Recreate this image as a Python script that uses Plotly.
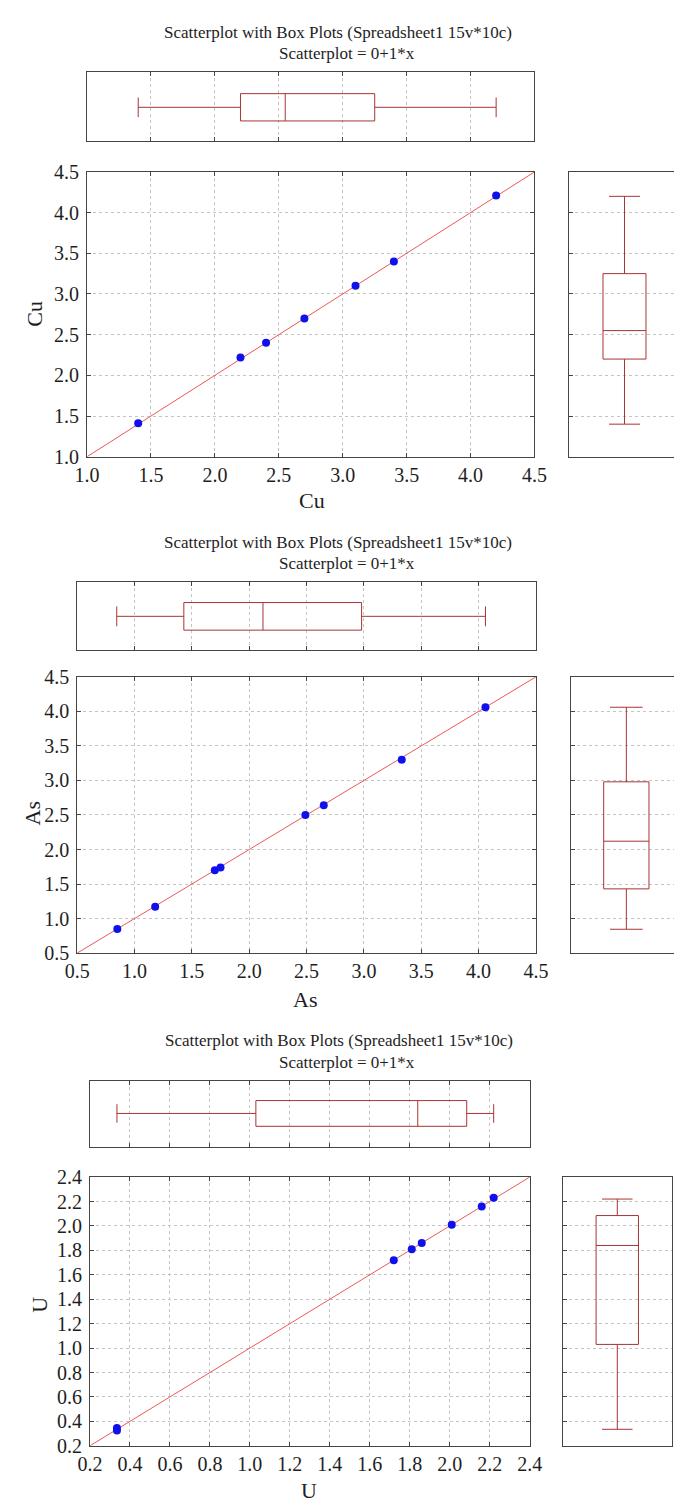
import plotly.graph_objects as go

# ---------------- data ----------------
title_main = "Scatterplot with Box Plots (Spreadsheet1 15v*10c)"
title_fit = "Scatterplot = 0+1*x"
fit_intercept = 0.0
fit_slope = 1.0

cu_x = [1.4, 2.2, 2.4, 2.7, 3.1, 3.4, 4.2]
cu_y = [1.41, 2.22, 2.4, 2.7, 3.1, 3.4, 4.21]
cu_stats = {"min": 1.4, "q1": 2.2, "med": 2.55, "q3": 3.25, "max": 4.2}
cu_range = [1.0, 4.5]
cu_dtick = 0.5

as_x = [0.85, 1.18, 1.70, 1.75, 2.49, 2.65, 3.33, 4.06]
as_y = [0.85, 1.17, 1.70, 1.74, 2.50, 2.64, 3.30, 4.06]
as_stats = {"min": 0.845, "q1": 1.43, "med": 2.12, "q3": 2.98, "max": 4.06}
as_range = [0.5, 4.5]
as_dtick = 0.5

u_x = [0.335, 0.335, 1.72, 1.81, 1.86, 2.01, 2.16, 2.22]
u_y = [0.325, 0.345, 1.72, 1.81, 1.86, 2.01, 2.16, 2.23]
u_stats = {"min": 0.335, "q1": 1.03, "med": 1.84, "q3": 2.085, "max": 2.22}
u_range = [0.2, 2.4]
u_dtick = 0.2

var_names = ["Cu", "As", "U"]

# ---------------- layout geometry (pixels) ----------------
W, H = 687, 1511
panels = [
    dict(name=var_names[0], x=cu_x, y=cu_y, st=cu_stats, rng=cu_range, dt=cu_dtick,
         sc=(77, 542, 163.3, 452.3), tb=(77, 542, 62.3, 132.3), rb=(578, 687, 163.3, 452.3),
         tb_pos=0.494, tb_w=0.396, rb_pos=0.528, rb_w=0.41, rb_mirror=False,
         t1=21.7, t2=42.7, tx=338, sx=347, xt=(311, 497), yt=(22, 307)),
    dict(name=var_names[1], x=as_x, y=as_y, st=as_stats, rng=as_range, dt=as_dtick,
         sc=(66.7, 543.5, 675.7, 956), tb=(66.7, 543.5, 579.3, 648.3), rb=(580, 687, 675.7, 956),
         tb_pos=0.493, tb_w=0.406, rb_pos=0.537, rb_w=0.44, rb_mirror=False,
         t1=539, t2=561, tx=338, sx=347, xt=(304, 1003), yt=(20, 814)),
    dict(name=var_names[2], x=u_x, y=u_y, st=u_stats, rng=u_range, dt=u_dtick,
         sc=(80, 537, 1183.3, 1456), tb=(80, 537, 1085.7, 1152.7), rb=(572, 685, 1183.3, 1456),
         tb_pos=0.507, tb_w=0.39, rb_pos=0.496, rb_w=0.39, rb_mirror=True,
         t1=1045, t2=1067, tx=339, sx=347, xt=(308, 1501), yt=(28, 1313)),
]

FONT = "Liberation Serif, Times New Roman, serif"
TXT = "#1e1e1e"
AXC = "#454545"
GRID = "#c4c4c4"
GDASH = "3px,3px"
BOXC = "#a83434"
FITC = "#ec5858"
DOTC = "#1010ee"


def xdom(a, b):
    return [a / W, b / W]


def ydom(top, bottom):
    return [1 - bottom / H, 1 - top / H]


fig = go.Figure()
layout = dict(width=W, height=H, margin=dict(l=0, r=0, t=0, b=0),
              paper_bgcolor="white", plot_bgcolor="white", showlegend=False,
              font=dict(family=FONT, color=TXT), annotations=[])

ax_i = 0
for p in panels:
    lo, hi = p["rng"]
    nt = int(round((hi - lo) / p["dt"]))
    ticks = [round(lo + k * p["dt"], 6) for k in range(nt + 1)]
    ticktext = [f"{t:.1f}" for t in ticks]

    # --- scatter ---
    ax_i += 1
    xs, ys = ("x" if ax_i == 1 else f"x{ax_i}"), ("y" if ax_i == 1 else f"y{ax_i}")
    xk, yk = ("xaxis" if ax_i == 1 else f"xaxis{ax_i}"), ("yaxis" if ax_i == 1 else f"yaxis{ax_i}")
    common = dict(range=[lo, hi], tickvals=ticks, ticktext=ticktext, ticks="inside", ticklen=4,
                  tickcolor=AXC, showline=True, linecolor=AXC, linewidth=1, mirror="ticks",
                  showgrid=True, gridcolor=GRID, griddash=GDASH, gridwidth=1, zeroline=False,
                  tickfont=dict(family=FONT, size=20, color=TXT), fixedrange=True)
    layout[xk] = dict(common, domain=xdom(p["sc"][0], p["sc"][1]), anchor=ys)
    layout[yk] = dict(common, domain=ydom(p["sc"][2], p["sc"][3]), anchor=xs, ticklabelstandoff=3)
    fx = [lo, hi]
    fy = [fit_intercept + fit_slope * v for v in fx]
    fig.add_trace(go.Scatter(x=fx, y=fy, mode="lines", line=dict(color=FITC, width=1),
                             xaxis=xs, yaxis=ys, hoverinfo="skip"))
    fig.add_trace(go.Scatter(x=p["x"], y=p["y"], mode="markers",
                             marker=dict(color=DOTC, size=8, line=dict(width=0)),
                             xaxis=xs, yaxis=ys))

    # --- top box ---
    ax_i += 1
    xs, ys = f"x{ax_i}", f"y{ax_i}"
    xk, yk = f"xaxis{ax_i}", f"yaxis{ax_i}"
    layout[xk] = dict(range=[lo, hi], tickvals=ticks, ticks="inside", ticklen=4, tickcolor=AXC,
                      showticklabels=False, showline=True, linecolor=AXC, linewidth=1,
                      mirror="ticks", showgrid=True, gridcolor=GRID, griddash=GDASH,
                      zeroline=False, domain=xdom(p["tb"][0], p["tb"][1]), anchor=ys,
                      fixedrange=True)
    layout[yk] = dict(range=[0, 1], showticklabels=False, ticks="", showgrid=False,
                      zeroline=False, showline=True, linecolor=AXC, linewidth=1, mirror=True,
                      domain=ydom(p["tb"][2], p["tb"][3]), anchor=xs, fixedrange=True)
    st = p["st"]
    fig.add_trace(go.Box(orientation="h", y=[p["tb_pos"]], q1=[st["q1"]], median=[st["med"]],
                         q3=[st["q3"]], lowerfence=[st["min"]], upperfence=[st["max"]],
                         width=p["tb_w"], whiskerwidth=0.72, boxpoints=False,
                         line=dict(color=BOXC, width=1), fillcolor="rgba(255,255,255,0)",
                         xaxis=xs, yaxis=ys, hoverinfo="skip"))

    # --- right box ---
    ax_i += 1
    xs, ys = f"x{ax_i}", f"y{ax_i}"
    xk, yk = f"xaxis{ax_i}", f"yaxis{ax_i}"
    layout[xk] = dict(range=[0, 1], showticklabels=False, ticks="", showgrid=False,
                      zeroline=False, showline=True, linecolor=AXC, linewidth=1, mirror=True,
                      domain=xdom(p["rb"][0], p["rb"][1]), anchor=ys, fixedrange=True)
    layout[yk] = dict(range=[lo, hi], tickvals=ticks, ticks="inside", ticklen=4, tickcolor=AXC,
                      showticklabels=False, showline=True, linecolor=AXC, linewidth=1,
                      mirror=p["rb_mirror"], showgrid=True, gridcolor=GRID, griddash=GDASH,
                      zeroline=False, domain=ydom(p["rb"][2], p["rb"][3]), anchor=xs,
                      fixedrange=True)
    fig.add_trace(go.Box(orientation="v", x=[p["rb_pos"]], q1=[st["q1"]], median=[st["med"]],
                         q3=[st["q3"]], lowerfence=[st["min"]], upperfence=[st["max"]],
                         width=p["rb_w"], whiskerwidth=0.72, boxpoints=False,
                         line=dict(color=BOXC, width=1), fillcolor="rgba(255,255,255,0)",
                         xaxis=xs, yaxis=ys, hoverinfo="skip"))

    # --- texts ---
    ann = layout["annotations"]
    ann.append(dict(text=title_main, x=p["tx"] / W, y=1 - p["t1"] / H, xref="paper", yref="paper",
                    xanchor="center", yanchor="middle", showarrow=False,
                    font=dict(family=FONT, size=17, color=TXT)))
    ann.append(dict(text=title_fit, x=p["sx"] / W, y=1 - p["t2"] / H, xref="paper", yref="paper",
                    xanchor="center", yanchor="middle", showarrow=False,
                    font=dict(family=FONT, size=17, color=TXT)))
    ann.append(dict(text=p["name"], x=p["xt"][0] / W, y=1 - p["xt"][1] / H, xref="paper",
                    yref="paper", xanchor="center", yanchor="middle", showarrow=False,
                    font=dict(family=FONT, size=22, color=TXT)))
    ann.append(dict(text=p["name"], x=p["yt"][0] / W, y=1 - p["yt"][1] / H, xref="paper",
                    yref="paper", xanchor="center", yanchor="middle", showarrow=False,
                    textangle=-90, font=dict(family=FONT, size=22, color=TXT)))

fig.update_layout(**layout)
fig.write_html("out.html", config={"displayModeBar": False})
